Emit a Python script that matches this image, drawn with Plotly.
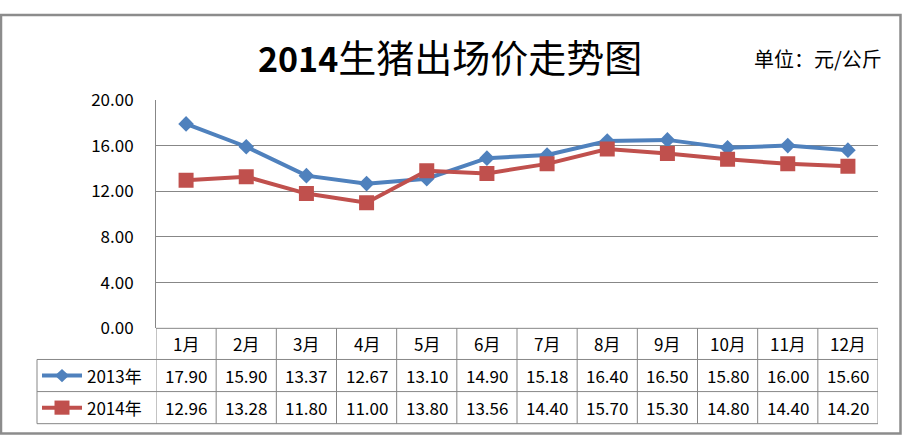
import plotly.graph_objects as go

months = ["1月", "2月", "3月", "4月", "5月", "6月", "7月", "8月", "9月", "10月", "11月", "12月"]
series_names = ["2013年", "2014年"]
prices_2013 = [17.90, 15.90, 13.37, 12.67, 13.10, 14.90, 15.18, 16.40, 16.50, 15.80, 16.00, 15.60]
prices_2014 = [12.96, 13.28, 11.80, 11.00, 13.80, 13.56, 14.40, 15.70, 15.30, 14.80, 14.40, 14.20]
title_year = "2014"
title_rest = "生猪出场价走势图"
unit_text = "单位：元/公斤"
y_ticks = [0, 4, 8, 12, 16, 20]

W, H = 902, 446
FONT = "Noto Sans CJK SC"
BLUE = "#4F81BD"
RED = "#C0504D"
GRID = "#878787"


def px(x):
    return x / W


def py(y):
    return 1 - y / H


PL, PR, PT, PB = 156, 878, 91, 333
ROW1, ROW2, ROW3 = 366, 400, 434
TABLE_LEFT = 37

xs = list(range(len(months)))

fig = go.Figure()
fig.add_trace(go.Scatter(
    x=xs, y=prices_2013, mode="lines+markers", name=series_names[0],
    line=dict(color=BLUE, width=4),
    marker=dict(symbol="diamond", size=12, color=BLUE),
    showlegend=False,
))
fig.add_trace(go.Scatter(
    x=xs, y=prices_2014, mode="lines+markers", name=series_names[1],
    line=dict(color=RED, width=4),
    marker=dict(symbol="square", size=15, color=RED),
    showlegend=False,
))

shapes = []
annotations = []

# data-table grid
shapes.append(dict(type="line", xref="paper", yref="paper", x0=px(PL), x1=px(PR), y0=py(PB), y1=py(PB),
                   line=dict(color=GRID, width=1)))
for yy in (ROW1, ROW2, ROW3):
    shapes.append(dict(type="line", xref="paper", yref="paper", x0=px(TABLE_LEFT), x1=px(PR), y0=py(yy), y1=py(yy),
                       line=dict(color=GRID, width=1)))
for i in range(len(months) + 1):
    shapes.append(dict(type="line", xref="x", yref="paper", x0=i - 0.5, x1=i - 0.5, y0=py(PB), y1=py(ROW3),
                       line=dict(color=GRID, width=1)))
shapes.append(dict(type="line", xref="paper", yref="paper", x0=px(TABLE_LEFT), x1=px(TABLE_LEFT),
                   y0=py(ROW1), y1=py(ROW3), line=dict(color=GRID, width=1)))

# outer border
shapes.append(dict(type="rect", xref="paper", yref="paper", x0=px(1), x1=px(900.5), y0=py(1), y1=py(444.5),
                   line=dict(color="#8C8C8C", width=2.5)))

# month header
hdr_y = py((PB + ROW1) / 2)
for i, m in enumerate(months):
    annotations.append(dict(x=i, y=hdr_y, xref="x", yref="paper", text=m, showarrow=False,
                            font=dict(family=FONT, size=17, color="#000"), xanchor="center", yanchor="middle"))

rows = [(prices_2013, (ROW1 + ROW2) / 2, BLUE, "diamond"), (prices_2014, (ROW2 + ROW3) / 2, RED, "square")]
for (vals, cy, col, sym), name in zip(rows, series_names):
    for i, v in enumerate(vals):
        annotations.append(dict(x=i, y=py(cy), xref="x", yref="paper", text=f"{v:.2f}", showarrow=False,
                                font=dict(family=FONT, size=17, color="#000"), xanchor="center", yanchor="middle"))
    # legend key inside the table
    shapes.append(dict(type="line", xref="paper", yref="paper", x0=px(42), x1=px(82), y0=py(cy), y1=py(cy),
                       line=dict(color=col, width=4)))
    cx = 62
    if sym == "diamond":
        r = 7
        path = (f"M {px(cx)} {py(cy - r)} L {px(cx + r)} {py(cy)} L {px(cx)} {py(cy + r)} "
                f"L {px(cx - r)} {py(cy)} Z")
        shapes.append(dict(type="path", xref="paper", yref="paper", path=path,
                           fillcolor=col, line=dict(color=col, width=0)))
    else:
        r = 7.5
        shapes.append(dict(type="rect", xref="paper", yref="paper", x0=px(cx - r), x1=px(cx + r),
                           y0=py(cy - r), y1=py(cy + r), fillcolor=col, line=dict(color=col, width=0)))
    annotations.append(dict(x=px(85), y=py(cy), xref="paper", yref="paper", text=name, showarrow=False,
                            font=dict(family=FONT, size=17, color="#000"), xanchor="left", yanchor="middle"))

# title and unit
annotations.append(dict(x=px(256), y=py(44), xref="paper", yref="paper",
                        text=f"<b>{title_year}</b><span style='font-size:38px'>{title_rest}</span>",
                        showarrow=False, font=dict(family=FONT, size=34, color="#000"),
                        xanchor="left", yanchor="middle"))
annotations.append(dict(x=px(752), y=py(47), xref="paper", yref="paper", text=unit_text,
                        showarrow=False, font=dict(family=FONT, size=20, color="#000"),
                        xanchor="left", yanchor="middle"))

fig.update_layout(
    width=W, height=H,
    margin=dict(l=0, r=0, t=0, b=0),
    paper_bgcolor="white", plot_bgcolor="white",
    shapes=shapes, annotations=annotations,
    xaxis=dict(domain=[px(PL), px(PR)], range=[-0.5, len(months) - 0.5], showticklabels=False,
               showgrid=False, zeroline=False, showline=False, fixedrange=True),
    yaxis=dict(domain=[py(PB), py(PT)], range=[0, 20], tickvals=y_ticks, tickformat=".2f",
               showgrid=True, gridcolor=GRID, gridwidth=1, zeroline=False,
               showline=True, linecolor=GRID, linewidth=1,
               ticks="", ticklabelstandoff=18,
               tickfont=dict(family=FONT, size=17, color="#000")),
)

fig.write_html(
    "out.html",
    config={"displayModeBar": False, "responsive": False},
    post_script="document.body.style.margin='0';document.body.style.padding='0';"
                "document.body.style.overflow='hidden';",
)
